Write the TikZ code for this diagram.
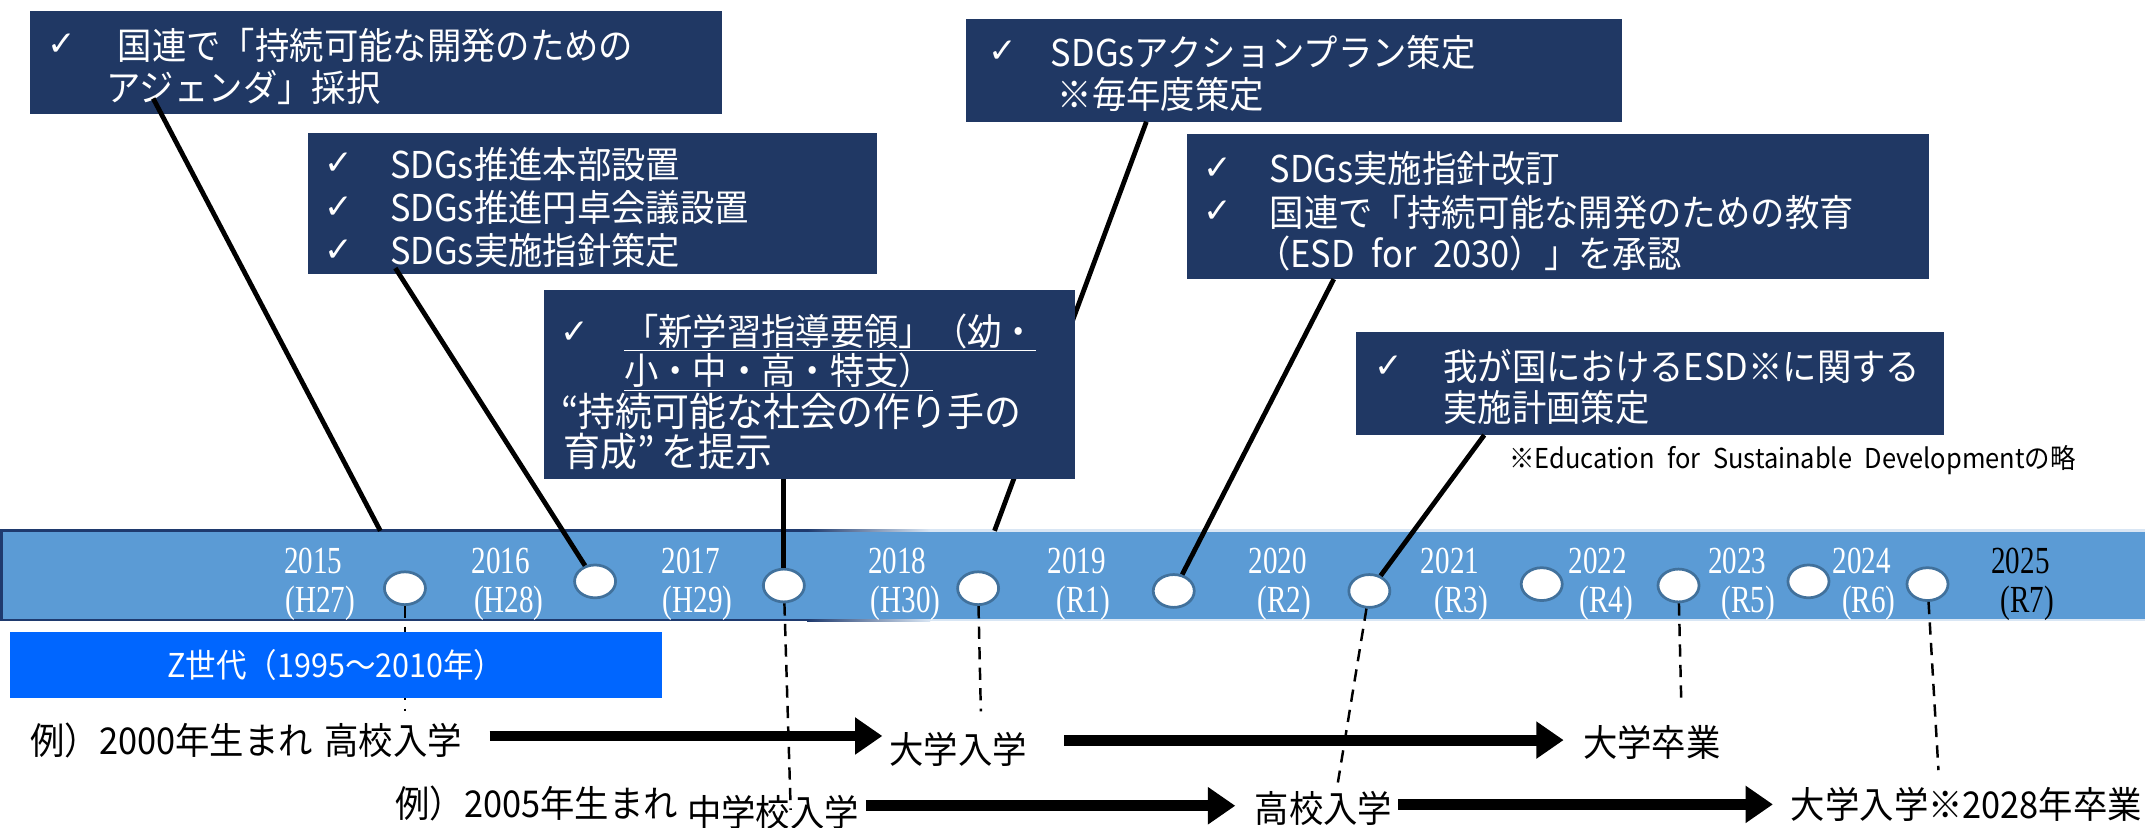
\documentclass[tikz,border=0pt]{standalone}
\usepackage{fontspec}
\usetikzlibrary{shapes.geometric,arrows.meta}
\newfontfamily\jp[FakeStretch=0.93]{Noto Sans CJK JP}
\newfontfamily\jpfn[FakeStretch=0.93,WordSpace=2.2]{Noto Sans CJK JP}
\newfontfamily\yr[FakeStretch=0.76]{Liberation Serif}
\newfontfamily\sym{DejaVu Sans}
\definecolor{navy}{HTML}{203864}
\definecolor{barblue}{HTML}{5B9BD5}
\definecolor{barnavy}{HTML}{1F3A6E}
\definecolor{barlight}{HTML}{D9E6F4}
\definecolor{ring}{HTML}{41719C}
\definecolor{zblue}{HTML}{0066FF}
\begin{document}
\begin{tikzpicture}[x=1pt,y=-1pt,
  navybox/.style={fill=navy,inner sep=0pt,rectangle},
  wtxt/.style={text=white,font=\jp\fontsize{27}{32}\selectfont,anchor=west,inner sep=0pt},
  btxt/.style={text=black,font=\jp\fontsize{27}{32}\selectfont,anchor=west,inner sep=0pt},
  chk/.style={text=white,font=\sym\fontsize{25}{28}\selectfont,inner sep=0pt},
  yrtxt/.style={text=white,font=\yr\fontsize{28}{30}\selectfont,inner sep=0pt},
  yrdot/.style={ellipse,fill=white,draw=ring,line width=2pt,minimum width=30pt,minimum height=24pt,inner sep=0pt},
  conn/.style={line width=3.5pt,black},
  dline/.style={line width=1.8pt,black,dash pattern=on 9pt off 6pt},
  bigarrow/.style={line width=8pt,-{Triangle[length=20pt,width=26pt]}}
]
\useasboundingbox (0,0) rectangle (1568,605);
\fill[white] (0,0) rectangle (1568,605);

% timeline bar
\fill[barnavy] (0,387) rectangle (590,454);
\shade[left color=barnavy,right color=barlight] (590,387) rectangle (680,454);
\fill[barlight] (680,387) rectangle (1568,454);
\node[fill=barblue,inner sep=0pt,minimum width=1566pt,minimum height=63pt,anchor=north west] (bar) at (2,389) {};

% year labels
\node[yrtxt] (t15) at (229,410) {2015};
\node[yrtxt] (h15) at (234,441) {(H27)};
\node[yrtxt] (t16) at (366,410) {2016};
\node[yrtxt] (h16) at (372,441) {(H28)};
\node[yrtxt] (t17) at (505,410) {2017};
\node[yrtxt] (h17) at (510,441) {(H29)};
\node[yrtxt] (t18) at (656,410) {2018};
\node[yrtxt] (h18) at (662,441) {(H30)};
\node[yrtxt] (t19) at (787,410) {2019};
\node[yrtxt] (h19) at (792,441) {(R1)};
\node[yrtxt] (t20) at (934,410) {2020};
\node[yrtxt] (h20) at (939,441) {(R2)};
\node[yrtxt] (t21) at (1060,410) {2021};
\node[yrtxt] (h21) at (1068,441) {(R3)};
\node[yrtxt] (t22) at (1168,410) {2022};
\node[yrtxt] (h22) at (1174,441) {(R4)};
\node[yrtxt] (t23) at (1270,410) {2023};
\node[yrtxt] (h23) at (1278,441) {(R5)};
\node[yrtxt] (t24) at (1361,410) {2024};
\node[yrtxt] (h24) at (1366,441) {(R6)};
\node[yrtxt,text=black] (t25) at (1477,410) {2025};
\node[yrtxt,text=black] (h25) at (1482,441) {(R7)};

% dots
\node[yrdot] (c1) at (296,430) {};
\node[yrdot] (c2) at (435,425) {};
\node[yrdot] (c3) at (573,428) {};
\node[yrdot] (c4) at (715,430) {};
\node[yrdot] (c5) at (858,432) {};
\node[yrdot] (c6) at (1001,432) {};
\node[yrdot] (c7) at (1127,427) {};
\node[yrdot] (c8) at (1227,428) {};
\node[yrdot] (c9) at (1322,425) {};
\node[yrdot] (c10) at (1409,427) {};

% dashed drop lines
\coordinate (d1) at (296,520);
\coordinate (d2) at (578,592);
\coordinate (d3) at (717,520);
\coordinate (d4) at (978,572);
\coordinate (d5) at (1229,513);
\coordinate (d6) at (1417,563);
\draw[dline] (c1) -- (d1);
\draw[dline] (c3) -- (d2);
\draw[dline] (c4) -- (d3);
\draw[dline] (c6) -- (d4);
\draw[dline] (c8) -- (d5);
\draw[dline] (c10) -- (d6);

% Z generation box
\node[fill=zblue,inner sep=0pt,minimum width=477pt,minimum height=48pt,text=white,font=\jp\fontsize{24}{28}\selectfont] (zbox) at (245.5,486) {Z世代（1995～2010年）};

% boxes (except box5)
\node[navybox,minimum width=506pt,minimum height=75pt] (b1) at (275,45.5) {};
\node[navybox,minimum width=416pt,minimum height=103pt] (b2) at (433,148.5) {};
\node[navybox,minimum width=480pt,minimum height=75pt] (b3) at (946,51.5) {};
\node[navybox,minimum width=542pt,minimum height=106pt] (b4) at (1139,151) {};
\node[navybox,minimum width=430pt,minimum height=75pt] (b6) at (1206,280.5) {};

% box texts
\node[chk] (k1) at (45,33) {✓};
\node[wtxt] (x1a) at (86,33) {国連で「持続可能な開発のための};
\node[wtxt] (x1b) at (78,64) {アジェンダ」採択};

\node[chk] (k2a) at (248,120) {✓};
\node[wtxt] (x2a) at (285,120) {SDGs推進本部設置};
\node[chk] (k2b) at (248,152) {✓};
\node[wtxt] (x2b) at (285,152) {SDGs推進円卓会議設置};
\node[chk] (k2c) at (248,183) {✓};
\node[wtxt] (x2c) at (285,183) {SDGs実施指針策定};

\node[chk] (k3) at (733,38) {✓};
\node[wtxt] (x3a) at (768,38) {SDGsアクションプラン策定};
\node[wtxt] (x3b) at (773,69) {※毎年度策定};

\node[chk] (k4a) at (890,123) {✓};
\node[wtxt] (x4a) at (928,123) {SDGs実施指針改訂};
\node[chk] (k4b) at (890,155) {✓};
\node[wtxt] (x4b) at (928,155) {国連で「持続可能な開発のための教育};
\node[wtxt] (x4c) at (918,185) {（ESD for 2030）」を承認};

\node[chk] (k6) at (1015,268) {✓};
\node[wtxt] (x6a) at (1055,268) {我が国におけるESD※に関する};
\node[wtxt] (x6b) at (1055,298) {実施計画策定};

\node[btxt,font=\jpfn\fontsize{20}{22}\selectfont] (fn) at (1103,336) {※Education for Sustainable Developmentの略};

% connectors
\coordinate (s1) at (112,72);
\coordinate (e1) at (278,388);
\coordinate (s2) at (289,196);
\coordinate (s3) at (838,89);
\coordinate (e3) at (727,388);
\coordinate (s5) at (975,204);
\coordinate (s6) at (1085,318);
\draw[conn] (s1) -- (e1);
\draw[conn] (s2) -- (c2);
\draw[conn] (s3) -- (e3);
\draw[conn] (s5) -- (c5);
\draw[conn] (s6) -- (c6);

% box5 (on top of connector 3)
\node[navybox,minimum width=388pt,minimum height=138pt] (b5) at (592,281) {};
\node[chk] (k5) at (420,243) {✓};
\node[wtxt] (x5a) at (456,243) {\underline{「新学習指導要領」（幼・}};
\node[wtxt] (x5b) at (456,272) {\underline{小・中・高・特支）}};
\node[wtxt,font=\jp\fontsize{29}{32}\selectfont] (x5c) at (410,301) {“持続可能な社会の作り手の};
\node[wtxt,font=\jp\fontsize{29}{32}\selectfont] (x5d) at (412,330) {育成”\,を提示};
\draw[conn] (b5.south -| c3) -- (c3);

% example rows
\node[btxt] (r1a) at (22,541) {例）2000年生まれ};
\node[btxt] (r1b) at (237,541) {高校入学};
\node[btxt] (r1c) at (650,548) {大学入学};
\node[btxt] (r1d) at (1157,543) {大学卒業};
\node[btxt] (r2a) at (289,587) {例）2005年生まれ};
\node[btxt] (r2b) at (502,594) {中学校入学};
\node[btxt] (r2c) at (917,591) {高校入学};
\node[btxt] (r2d) at (1309,588) {大学入学※2028年卒業};

\coordinate (a1s) at (358,538);
\coordinate (a1e) at (645,538);
\coordinate (a2s) at (778,541);
\coordinate (a2e) at (1143,541);
\coordinate (a3s) at (633,589);
\coordinate (a3e) at (903,589);
\coordinate (a4s) at (1022,588);
\coordinate (a4e) at (1296,588);
\draw[bigarrow] (a1s) -- (a1e);
\draw[bigarrow] (a2s) -- (a2e);
\draw[bigarrow] (a3s) -- (a3e);
\draw[bigarrow] (a4s) -- (a4e);
\end{tikzpicture}
\end{document}
